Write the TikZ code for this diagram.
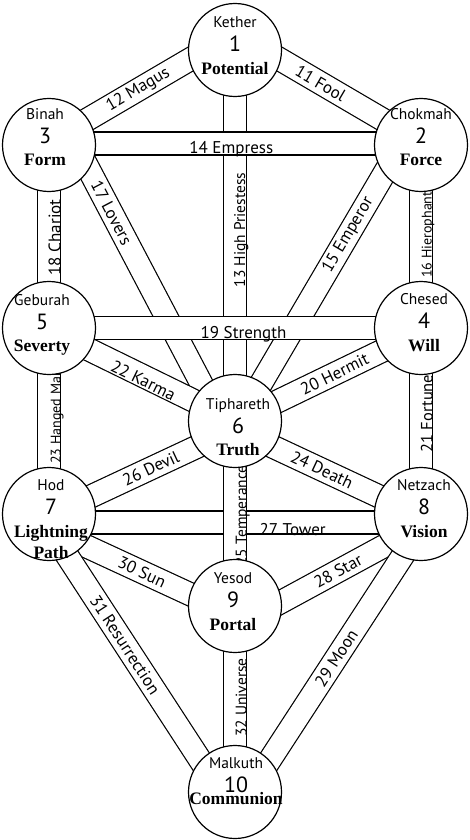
\documentclass[tikz,border=0pt]{standalone}
\usepackage{fontspec}
\newfontfamily\treesans{PT Sans}
\newfontfamily\treeserif{Liberation Serif}
\usepackage{tikz}
\usetikzlibrary{backgrounds}

\tikzset{
    sephira/.style={circle, draw, fill=white, line width=1.2pt, minimum size=93pt, inner sep=0pt},
    band/.style={line width=1.2pt, double=white, double distance=21.8pt},
    pathlabel/.style={sloped, inner sep=0pt, font=\treesans\fontsize{#1}{#1}\selectfont},
    pathlabel/.default=17,
    hang/.style={anchor=north, text height=#1},
    hang/.default=10pt,
    sname/.style={anchor=base, inner sep=0pt, font=\treesans\fontsize{15.5}{15.5}\selectfont},
    snum/.style={anchor=base, inner sep=0pt, font=\treesans\fontsize{22}{22}\selectfont},
    sword/.style={anchor=north, inner sep=0pt, align=center, font=\treeserif\bfseries\fontsize{17.5}{21}\selectfont}
}

\begin{document}
\begin{tikzpicture}[x=1pt, y=1pt]

    \useasboundingbox (0,0) rectangle (470,-840);
    
    % draw the ten sephiroth
    \foreach \i/\cx/\cy/\nam/\wrd/\tx/\ty/\wt in {
        1/235/50/Kether/Potential/0/-1/11,
        2/421/145/Chokmah/Force/0/2/11,
        3/49/145/Binah/Form/-4/2/11,
        4/421/328/Chesed/Will/3/0/11,
        5/49/328/Geburah/Severty/-7/-0.5/11,
        6/235/421/Tiphareth/Truth/3/-11.5/11,
        7/49/514/Hod/{Lightning\\Path}/2/0/11,
        8/421/514/Netzach/Vision/3/0/11,
        9/235/606/Yesod/Portal/-2/-1/11,
        10/235/792/Malkuth/Communion/1/0/0.3}
    {
        \node[sephira] (s\i) at (\cx,-\cy) {};
        \node[sname] (n\i) at ([shift={(\tx,\ty+23.5)}]s\i.center) {\nam};
        \node[snum] (d\i) at ([shift={(\tx,\ty-0.5)}]s\i.center) {\i};
        \node[sword] (w\i) at ([shift={(\tx,\ty-\wt)}]s\i.center) {\wrd};
    }
    
    \begin{scope}[on background layer]
        \fill[white] (0,0) rectangle (470,-840);
        
        % draw the slanted paths
        \draw[band] ([yshift=17pt]s1.center) -- ([yshift=3pt]s2.center) node[pathlabel, pos=.46] (p11) {11 Fool};
        \draw[band] ([yshift=17pt]s1.center) -- ([yshift=3pt]s3.center) node[pathlabel, pos=.52] (p12) {12 Magus};
        \draw[band] ([xshift=-20pt]s2.center) -- ([xshift=4pt]s6.center) node[pathlabel, pos=.326] (p15) {15 Emperor};
        \draw[band] ([xshift=27pt]s3.center) -- ([xshift=-14pt]s6.center) node[pathlabel, pos=.246] (p17) {17 Lovers};
        \draw[band] ([yshift=-4pt]s4.center) -- ([yshift=-1pt]s6.center) node[pathlabel, pos=.465] (p20) {20 Hermit};
        \draw[band] ([yshift=-2pt]s5.center) -- (s6.center) node[pathlabel, pos=.516, hang=9pt] (p22) {22 Karma};
        \draw[band] ([yshift=-8pt]s6.center) -- ([yshift=-2pt]s8.center) node[pathlabel, pos=.468] (p24) {24 Death};
        \draw[band] ([yshift=-2pt]s7.center) -- ([yshift=-8pt]s6.center) node[pathlabel, pos=.548] (p26) {26 Devil};
        \draw[band] ([yshift=-12pt]s8.center) -- ([yshift=-21pt]s9.center) node[pathlabel, pos=.446] (p28) {28 Star};
        \draw[band] ([xshift=9pt]s8.center) -- ([xshift=14pt]s10.center) node[pathlabel, pos=.518] (p29) {29 Moon};
        \draw[band] ([yshift=-15pt]s7.center) -- ([yshift=-9pt]s9.center) node[pathlabel, pos=.5] (p30) {30 Sun};
        \draw[band] ([xshift=-9pt]s7.center) -- ([xshift=-14pt]s10.center) node[pathlabel, pos=.471] (p31) {31 Resurrection};
        
        % draw the pillars
        \draw[band] (s6.center) -- (s1.center) node[pathlabel=15.5, pos=.515, hang=9.5pt] (p13) {13 High Priestess};
        \draw[band] (s4.center) -- (s2.center) node[pathlabel=14, pos=.51, hang] (p16) {16 Hierophant};
        \draw[band] (s5.center) -- (s3.center) node[pathlabel, pos=.495, hang=11pt] (p18) {18 Chariot};
        \draw[band] (s8.center) -- (s4.center) node[pathlabel=16.5, pos=.54, hang=11pt] (p21) {21 Fortune};
        \draw[band] (s7.center) -- (s5.center) node[pathlabel=14, pos=.525, hang=11pt] (p23) {23 Hanged Man};
        \draw[band] (s10.center) -- (s9.center) node[pathlabel=15.5, pos=.508, hang=11pt] (p32) {32 Universe};
        
        % draw the cross paths
        \draw[band] ([yshift=1.5pt]s3.center) -- ([yshift=1.5pt]s2.center) node[pathlabel, pos=.49, hang=9.5pt] (p14) {14 Empress};
        \draw[band] (s5.center) -- (s4.center) node[pathlabel, pos=.523, hang] (p19) {19 Strength};
        \draw[band] ([yshift=-8.5pt]s7.center) -- ([yshift=-8.5pt]s8.center) node[pathlabel, pos=.655, hang=12.5pt] (p27) {27 Tower};
        \draw[band] (s9.center) -- (s6.center) node[pathlabel=15.5, pos=.49, hang=11pt] (p25) {25 Temperance};
    \end{scope}
    
\end{tikzpicture}
\end{document}
